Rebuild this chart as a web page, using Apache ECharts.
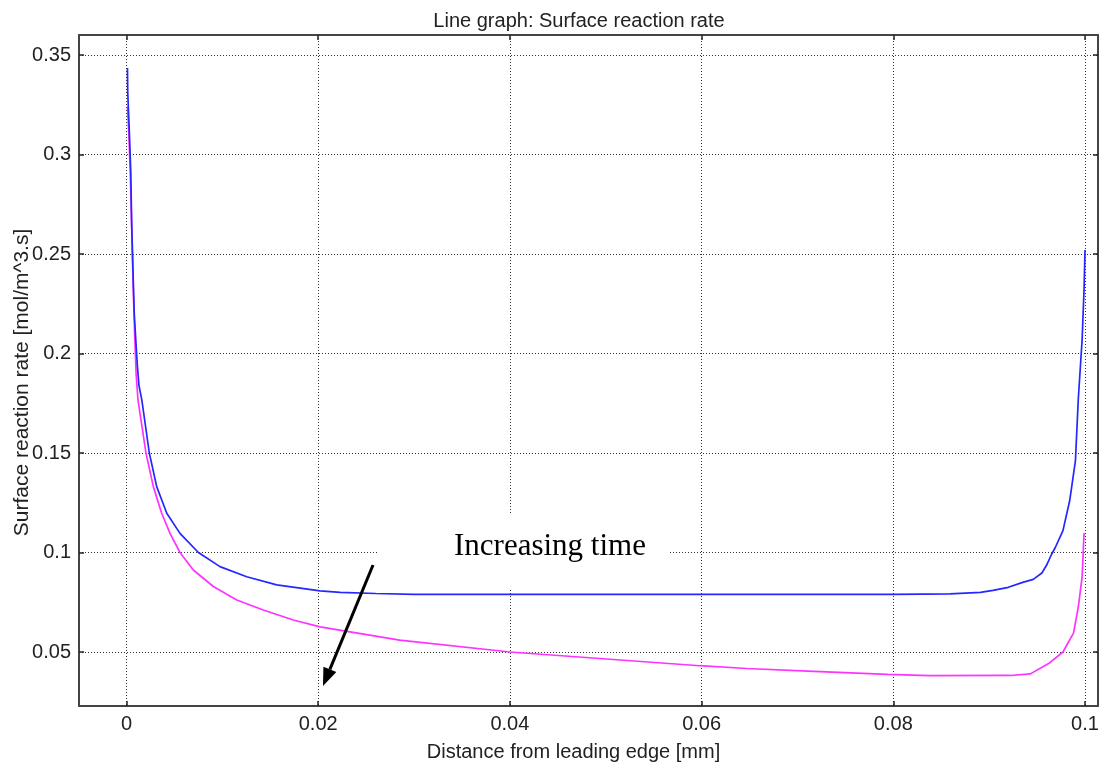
<!DOCTYPE html>
<html>
<head>
<meta charset="utf-8">
<script src="https://cdn.jsdelivr.net/npm/echarts@6/dist/echarts.min.js"></script>
<style>
html,body{margin:0;padding:0;background:#fff;}
#chart{width:1100px;height:767px;}
</style>
</head>
<body>
<div id="chart"></div>
<script>
// ---- data ----
const titleText = 'Line graph: Surface reaction rate';
const xName = 'Distance from leading edge [mm]';
const yName = 'Surface reaction rate [mol/m^3.s]';
const xTicks = [0, 0.02, 0.04, 0.06, 0.08, 0.1];
const yTicks = [0.05, 0.1, 0.15, 0.2, 0.25, 0.3, 0.35];

// earlier time (blue)
const blueX = [0.0001, 0.00013, 0.00029, 0.00044, 0.00054, 0.00071, 0.00081, 0.00099, 0.00113, 0.0013,
  0.0016, 0.00238, 0.00315, 0.0042, 0.00558, 0.0075, 0.00975, 0.01254, 0.01567, 0.0202,
  0.0223, 0.026, 0.03, 0.04, 0.06, 0.08, 0.0859, 0.0891, 0.0904, 0.092,
  0.0935, 0.0946, 0.0955, 0.096, 0.0965, 0.0969, 0.0977, 0.0984, 0.099, 0.0993,
  0.0997, 0.0999, 0.1];
const blueY = [0.3435, 0.331, 0.312, 0.292, 0.265, 0.236, 0.22, 0.205, 0.194, 0.184,
  0.1766, 0.15, 0.1331, 0.1197, 0.1096, 0.1, 0.0929, 0.0878, 0.0837, 0.0807,
  0.08, 0.0794, 0.079, 0.079, 0.079, 0.079, 0.0792, 0.08, 0.081, 0.0825,
  0.085, 0.0865, 0.0897, 0.0937, 0.099, 0.1025, 0.111, 0.126, 0.146, 0.177,
  0.207, 0.232, 0.252];

// later time (magenta)
const magX = [0.0001, 0.00025, 0.0004, 0.00055, 0.0007, 0.00085, 0.001, 0.0012, 0.00203, 0.0028,
  0.00367, 0.00454, 0.00558, 0.00697, 0.00906, 0.0115, 0.01427, 0.0174, 0.0202, 0.0285,
  0.04, 0.0598, 0.0647, 0.0717, 0.0794, 0.0838, 0.0922, 0.0943, 0.0963, 0.0977,
  0.0988, 0.0993, 0.0997, 0.0999];
const magY = [0.324, 0.31, 0.29, 0.262, 0.233, 0.21, 0.19, 0.1766, 0.15, 0.1331,
  0.1197, 0.1096, 0.1, 0.0912, 0.0829, 0.0761, 0.0711, 0.0661, 0.0626, 0.056,
  0.05, 0.0431, 0.0417, 0.0403, 0.0388, 0.0381, 0.0382, 0.039, 0.0445, 0.05,
  0.0595, 0.0726, 0.0877, 0.1098];

// annotation (data coordinates)
const annoText = 'Increasing time';
const annoTextPos = [0.04418, 0.1028];
const annoBox = [[0.02624, 0.1188], [0.0567, 0.0812]];
const arrowFrom = [0.02572, 0.0937];
const arrowTo = [0.0205, 0.0329];

const xMin = -0.004956, xMax = 0.101356;
const yMin = 0.02286, yMax = 0.36005;

const zip = (a, b) => a.map((v, i) => [v, b[i]]);
const FONT = '"Liberation Sans", Arial, sans-serif';
const TXT = '#222';

const gridLine = {show: true, lineStyle: {color: '#333', width: 1, type: [1, 2]}};
function xAx(pos, labels) {
  return {
    type: 'value', position: pos, min: xMin, max: xMax,
    name: labels ? xName : '', nameLocation: 'middle', nameGap: 36, nameMoveOverlap: false,
    nameTextStyle: {fontFamily: FONT, fontSize: 20, color: TXT, padding: [0, 30, 0, 0]},
    axisLine: {show: true, onZero: false, lineStyle: {color: '#444', width: 2}},
    axisTick: {show: true, inside: true, length: 5, customValues: xTicks, lineStyle: {color: '#222', width: 1.5}},
    axisLabel: {show: labels, customValues: xTicks, margin: 8, fontFamily: FONT, fontSize: 20, color: TXT,
      formatter: v => String(+v.toFixed(4))},
    splitLine: labels ? gridLine : {show: false}
  };
}
function yAx(pos, labels) {
  return {
    type: 'value', position: pos, min: yMin, max: yMax,
    name: labels ? yName : '', nameLocation: 'middle', nameGap: 46, nameMoveOverlap: false,
    nameTextStyle: {fontFamily: FONT, fontSize: 21, color: TXT, padding: [0, 24, 0, 0]},
    axisLine: {show: true, onZero: false, lineStyle: {color: '#444', width: 2}},
    axisTick: {show: true, inside: true, length: 5, customValues: yTicks, lineStyle: {color: '#222', width: 1.5}},
    axisLabel: {show: labels, customValues: yTicks, margin: 8, fontFamily: FONT, fontSize: 20, color: TXT,
      formatter: v => String(+v.toFixed(4))},
    splitLine: labels ? gridLine : {show: false}
  };
}

const chart = echarts.init(document.getElementById('chart'), null, {renderer: 'canvas'});
chart.setOption({
  animation: false,
  backgroundColor: '#fff',
  grid: {left: 79, right: 2, top: 35, bottom: 61, containLabel: false, outerBoundsMode: 'none'},
  xAxis: [xAx('bottom', true), xAx('top', false)],
  yAxis: [yAx('left', true), yAx('right', false)],
  series: [
    {type: 'line', name: 'later', data: zip(magX, magY), showSymbol: false, smooth: false,
     lineStyle: {color: '#ff33ff', width: 1.7}, z: 3},
    {type: 'line', name: 'earlier', data: zip(blueX, blueY), showSymbol: false, smooth: false,
     lineStyle: {color: '#2626ff', width: 1.7}, z: 4}
  ]
});

// annotation built from data coordinates
const P = p => chart.convertToPixel({xAxisIndex: 0, yAxisIndex: 0}, p);
const b0 = P(annoBox[0]), b1 = P(annoBox[1]);
const tp = P(annoTextPos);
const a0 = P(arrowFrom), a1 = P(arrowTo);
const dx = a1[0] - a0[0], dy = a1[1] - a0[1];
const L = Math.hypot(dx, dy), ux = dx / L, uy = dy / L;
const headLen = 18, headHalf = 7;
const bx = a1[0] - ux * headLen, by = a1[1] - uy * headLen;
chart.setOption({
  graphic: [
    {type: 'text', x: 579, y: 21, z: 10,
     style: {text: titleText, fontFamily: FONT, fontSize: 20, fill: TXT, align: 'center', verticalAlign: 'middle'}},
    {type: 'rect', z: 1, silent: true,
     shape: {x: b0[0], y: b0[1], width: b1[0] - b0[0], height: b1[1] - b0[1]},
     style: {fill: '#fff'}},
    {type: 'text', z: 10, x: tp[0], y: tp[1],
     style: {text: annoText, fontFamily: '"Liberation Serif", "Times New Roman", serif', fontSize: 31,
       fill: '#000', align: 'center', verticalAlign: 'middle'}},
    {type: 'line', z: 10, shape: {x1: a0[0], y1: a0[1], x2: bx, y2: by},
     style: {stroke: '#000', lineWidth: 3}},
    {type: 'polygon', z: 10,
     shape: {points: [[a1[0], a1[1]], [bx - uy * headHalf, by + ux * headHalf], [bx + uy * headHalf, by - ux * headHalf]]},
     style: {fill: '#000'}}
  ]
});
</script>
</body>
</html>
